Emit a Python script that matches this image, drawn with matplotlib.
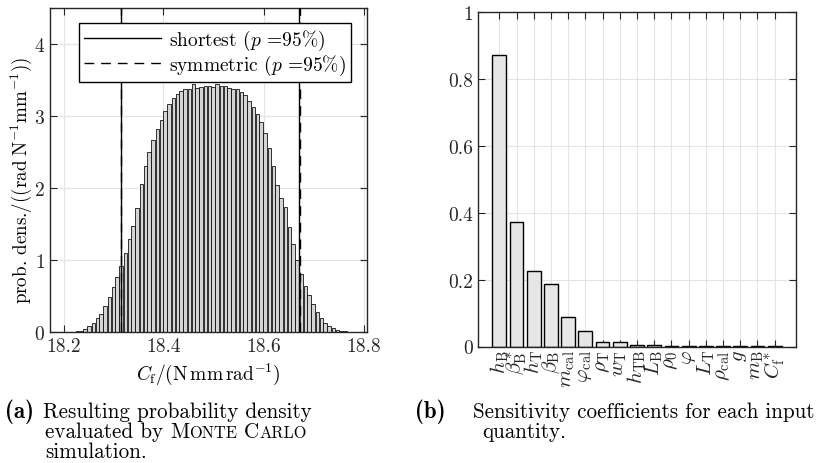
import matplotlib
matplotlib.use("Agg")
import matplotlib.pyplot as plt
import numpy as np

plt.rcParams["font.family"] = "cmr10"
plt.rcParams["mathtext.fontset"] = "cm"
plt.rcParams["axes.formatter.use_mathtext"] = True
plt.rcParams["axes.unicode_minus"] = False

# --- (a) histogram of the Monte Carlo result
bin_start = 18.2
bin_width = 0.008
density = [
    0.00, 0.00, 0.00, 0.01, 0.02, 0.04, 0.08, 0.13, 0.19, 0.25,
    0.36, 0.49, 0.62, 0.76, 0.91, 1.10, 1.29, 1.47, 1.72, 2.05,
    2.30, 2.50, 2.66, 2.82, 2.95, 3.07, 3.17, 3.25, 3.31, 3.35,
    3.37, 3.38, 3.45, 3.39, 3.40, 3.41, 3.42, 3.40, 3.44, 3.41,
    3.42, 3.39, 3.38, 3.37, 3.33, 3.29, 3.21, 3.13, 3.03, 2.91,
    2.76, 2.56, 2.30, 2.04, 1.86, 1.73, 1.46, 1.22, 1.00, 0.80,
    0.64, 0.51, 0.39, 0.28, 0.19, 0.12, 0.08, 0.05, 0.03, 0.02,
    0.01, 0.00, 0.00, 0.00, 0.00,
]
shortest = [18.315, 18.671]
symmetric = [18.316, 18.672]

# --- (b) sensitivity coefficients
inputs = [
    r"$h_\mathrm{B}$", r"$\beta^*_\mathrm{B}$", r"$h_\mathrm{T}$", r"$\beta_\mathrm{B}$",
    r"$m_\mathrm{cal}$", r"$\varphi_\mathrm{cal}$", r"$\rho_\mathrm{T}$", r"$w_\mathrm{T}$",
    r"$h_\mathrm{TB}$", r"$L_\mathrm{B}$", r"$\rho_0$", r"$\varphi$", r"$L_\mathrm{T}$",
    r"$\rho_\mathrm{cal}$", r"$g$", r"$m_\mathrm{B}$", r"$C^*_\mathrm{f}$",
]
sens = [0.873, 0.374, 0.225, 0.188, 0.087, 0.047, 0.013, 0.013,
        0.004, 0.004, 0.002, 0.002, 0.001, 0.0005, 0.0002, 0.0002, 0.0001]

W, H = 821, 464
FS = 14
CAP = 15.2
frame_c = "#262626"
grid_c = "#e3e3e3"

fig = plt.figure(figsize=(W / 100, H / 100), dpi=100)


def style(ax):
    ax.tick_params(direction="in", top=True, right=True, labelsize=FS,
                   length=5, width=0.8, colors=frame_c, labelcolor="#262626")
    for s in ax.spines.values():
        s.set_color(frame_c)
        s.set_linewidth(1.0)
    ax.grid(True, color=grid_c, lw=0.8)
    ax.set_axisbelow(True)


# left panel
ax1 = fig.add_axes([50 / W, 1 - 333 / H, 317 / W, 324 / H])
edges = bin_start + bin_width * np.arange(len(density) + 1)
ax1.bar(edges[:-1], density, width=bin_width, align="edge",
        color="#d4d4d4", edgecolor="black", linewidth=0.55, zorder=2)
for i, x in enumerate(shortest):
    ax1.axvline(x, color="black", lw=1.0, ls="-", zorder=3,
                label=r"shortest ($p$ =95%)" if i == 0 else None)
for i, x in enumerate(symmetric):
    ax1.axvline(x, color="black", lw=1.0, ls=(0, (7, 5)), zorder=3,
                label=r"symmetric ($p$ =95%)" if i == 0 else None)
ax1.set_xlim(18.173, 18.807)
ax1.set_ylim(0, 4.5)
ax1.set_xticks([18.2, 18.4, 18.6, 18.8])
ax1.set_xticklabels(["18.2", "18.4", "18.6", "18.8"])
ax1.set_yticks([0, 1, 2, 3, 4])
style(ax1)
ax1.set_xlabel(r"$C_\mathrm{f}/(\mathrm{N\,mm\,rad}^{-1})$", fontsize=FS, labelpad=4)
ax1.set_ylabel(r"prob. dens./$((\mathrm{rad\;N}^{-1}\mathrm{mm}^{-1}))$", fontsize=FS - 0.3)
ax1.yaxis.set_label_coords(-0.05, 0.47)
leg = ax1.legend(loc="upper center", bbox_to_anchor=(0.52, 0.954), borderaxespad=0,
                 fontsize=FS, handlelength=4.0, handletextpad=0.4, fancybox=False,
                 edgecolor="black", framealpha=1, borderpad=0.25, labelspacing=0.05)
leg.get_frame().set_linewidth(1.0)

# right panel
ax2 = fig.add_axes([478.3 / W, 1 - 347.5 / H, 317.4 / W, 334.2 / H])
pos = np.arange(1, len(sens) + 1)
ax2.bar(pos, sens, width=0.8, color="#e6e6e6", edgecolor="black", linewidth=1.0, zorder=2)
ax2.set_xlim(-0.22, len(sens) + 1.22)
ax2.set_ylim(0, 1)
ax2.set_yticks([0, 0.2, 0.4, 0.6, 0.8, 1])
ax2.set_yticklabels(["0", "0.2", "0.4", "0.6", "0.8", "1"])
ax2.set_xticks(pos)
ax2.set_xticklabels(inputs, rotation=90)
style(ax2)
ax2.tick_params(axis="x", pad=2, labelsize=15)

# captions
fig.canvas.draw()
rend = fig.canvas.get_renderer()


def line(x, y, pieces):
    for s, kw in pieces:
        t = fig.text(x / W, 1 - y / H, s, va="baseline", ha="left", **kw)
        x += t.get_window_extent(rend).width


cap = dict(fontsize=CAP)
sc = dict(fontsize=CAP * 0.78)
bold = dict(fontsize=CAP + 1.3, family="cmb10")
line(5, 418, [("(a)", bold)])
line(43, 418, [("Resulting probability density", cap)])
line(45, 438, [("evaluated by ", cap), ("M", cap), ("ONTE", sc), (" C", cap), ("ARLO", sc)])
line(45, 458, [("simulation.", cap)])
line(415, 418, [("(b)", bold)])
line(473, 418, [("Sensitivity coefficients for each input", cap)])
line(482, 438, [("quantity.", cap)])

fig.savefig("out.png", dpi=100)
